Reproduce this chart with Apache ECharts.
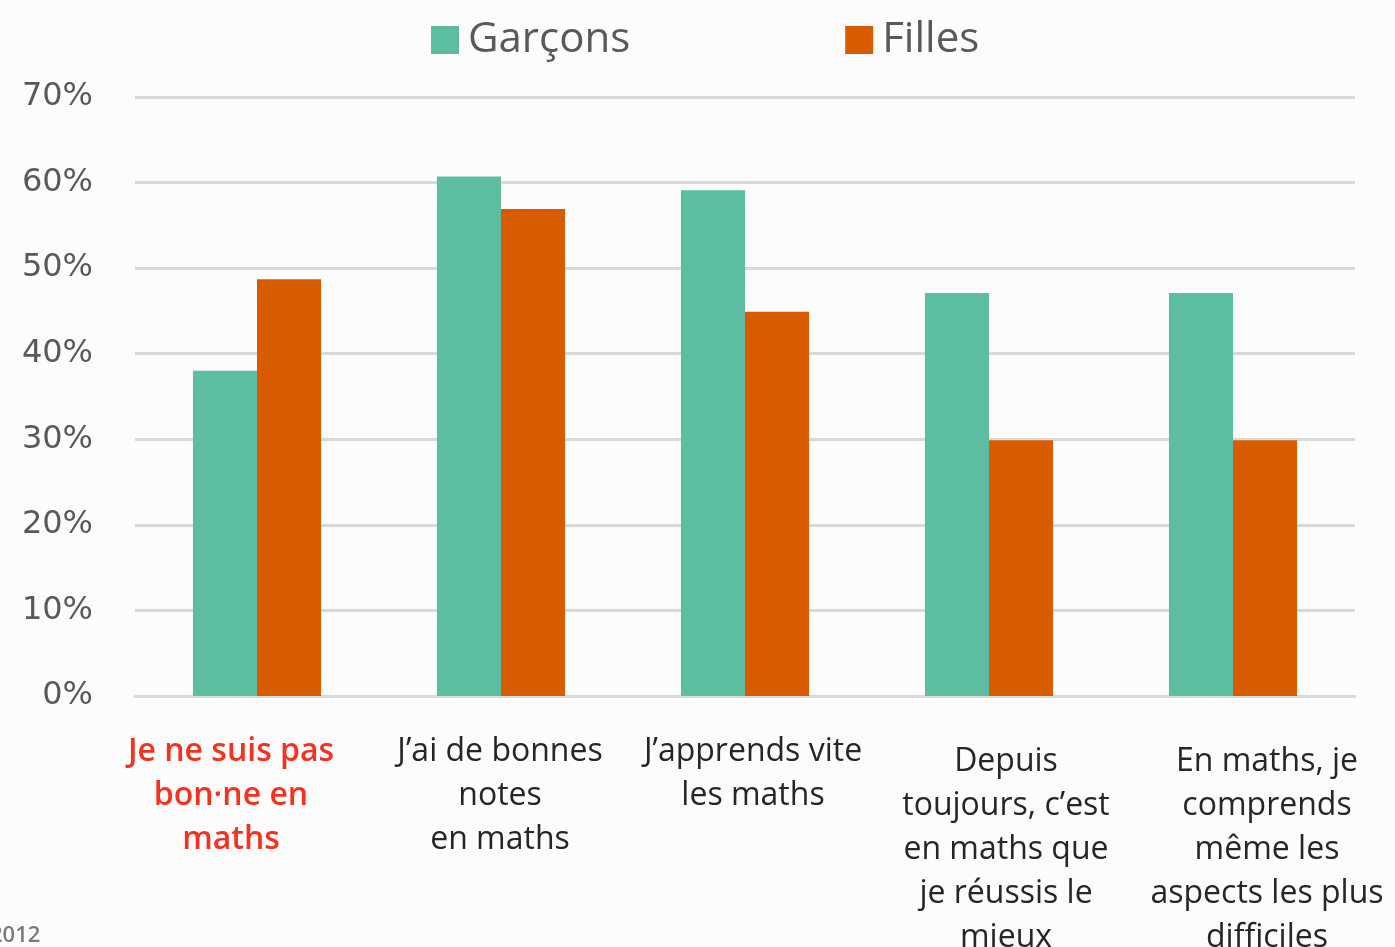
<!DOCTYPE html>
<html>
<head>
<meta charset="utf-8">
<script src="https://cdn.jsdelivr.net/npm/echarts@6/dist/echarts.min.js"></script>
<style>
html,body{margin:0;padding:0;background:#fcfcfc;}
#chart{width:1395px;height:947px;}
</style>
</head>
<body>
<div id="chart"></div>
<script>
const categories = [
  "Je ne suis pas\nbon·ne en\nmaths",
  "J’ai de bonnes\nnotes\nen maths",
  "J’apprends vite\nles maths",
  "Depuis\ntoujours, c’est\nen maths que\nje réussis le\nmieux",
  "En maths, je\ncomprends\nmême les\naspects les plus\ndifficiles"
];
const garcons = [38, 60.7, 59.1, 47.1, 47.1];
const filles = [48.7, 56.9, 44.9, 29.9, 29.9];
const seriesNames = ["Garçons", "Filles"];
const yTicks = { min: 0, max: 70, interval: 10 };

const labelPads = [[0,52,0,0],[0,2,0,0],[0,0,0,16],[10,0,0,34],[10,0,0,68]];
const axisData = categories.map((c, i) => ({
  value: c,
  textStyle: i === 0
    ? { color: '#f5321f', fontWeight: 600, padding: labelPads[i] }
    : { padding: labelPads[i] }
}));

const chart = echarts.init(document.getElementById('chart'));
chart.setOption({
  backgroundColor: '#fcfcfc',
  animation: false,
  textStyle: { fontFamily: 'Open Sans' },
  legend: {
    left: 426, top: 14,
    itemWidth: 28, itemHeight: 28, itemGap: 215,
    icon: 'rect',
    textStyle: { fontSize: 42, color: '#595959', fontFamily: 'Open Sans', padding: [0,0,0,4] },
    data: seriesNames
  },
  grid: { left: 135, right: 40, top: 97, bottom: 251, containLabel: false, outerBoundsMode: 'none' },
  xAxis: {
    type: 'category',
    data: axisData,
    axisLine: { show: true, lineStyle: { color: '#d9d9d9', width: 3 } },
    axisTick: { show: false },
    axisLabel: {
      interval: 0, margin: 34,
      fontSize: 32, lineHeight: 44, color: '#262626',
      fontFamily: 'Open Sans', align: 'center', verticalAlign: 'top'
    }
  },
  yAxis: {
    type: 'value',
    min: yTicks.min, max: yTicks.max, interval: yTicks.interval,
    axisLine: { show: false },
    axisTick: { show: false },
    splitLine: { lineStyle: { color: '#d9d9d9', width: 3 } },
    axisLabel: { formatter: '{value}%', fontSize: 32, color: '#595959', margin: 42, fontFamily: 'DejaVu Sans' }
  },
  series: [
    { name: seriesNames[0], type: 'bar', data: garcons, itemStyle: { color: '#5dbda0' }, barGap: '0%', barCategoryGap: '47.5%' },
    { name: seriesNames[1], type: 'bar', data: filles, itemStyle: { color: '#d95b00' } }
  ],
  graphic: [
    { type: 'text', left: -10, top: 925, style: { text: '2012', fontSize: 22, fontWeight: 600, fill: '#7a7a7a', fontFamily: 'Open Sans' } }
  ]
});
</script>
</body>
</html>
